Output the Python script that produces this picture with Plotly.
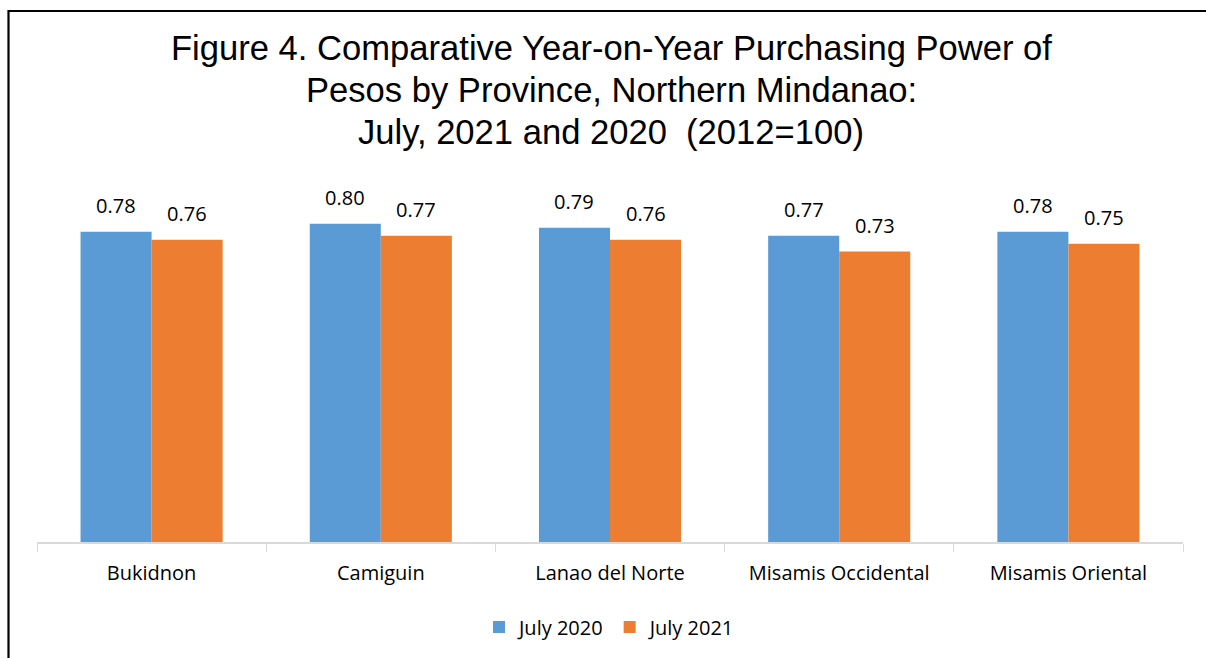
import plotly.graph_objects as go

provinces = ["Bukidnon", "Camiguin", "Lanao del Norte", "Misamis Occidental", "Misamis Oriental"]
july_2020 = [0.78, 0.80, 0.79, 0.77, 0.78]
july_2021 = [0.76, 0.77, 0.76, 0.73, 0.75]
series_names = ["July 2020", "July 2021"]
colors = ["#5B9BD5", "#ED7D31"]
title_lines = ["Figure 4. Comparative Year-on-Year Purchasing Power of",
               "Pesos by Province, Northern Mindanao:",
               "July, 2021 and 2020  (2012=100)"]

W, H = 1206, 658
L, R, T, B = 37, 23, 184, 116
pw, ph = W - L - R, H - T - B
BARGAP = 0.38
bar_px = pw / len(provinces) * (1 - BARGAP) / 2

label_font = dict(family="Open Sans, sans-serif", size=20, color="#000000")

fig = go.Figure()
annotations = []
for k, (name, vals, col) in enumerate(zip(series_names, [july_2020, july_2021], colors)):
    fig.add_trace(go.Bar(
        x=provinces, y=vals, name=name, marker=dict(color=col, line=dict(width=0)),
    ))
    for p, v in zip(provinces, vals):
        annotations.append(dict(
            x=p, y=v, xref="x", yref="y", text=f"{v:.2f}", showarrow=False,
            xshift=(k - 0.5) * bar_px, yshift=26, yanchor="middle", xanchor="center",
            font=label_font,
        ))

title_y = [48, 90, 132]
for line, yy in zip(title_lines, title_y):
    annotations.append(dict(
        text=line, xref="paper", yref="paper", x=(611 - L) / pw, y=1 + (T - yy) / ph,
        xanchor="center", yanchor="middle", showarrow=False,
        font=dict(family="Liberation Sans, Arial, sans-serif", size=34.6, color="#000000"),
    ))

fig.update_layout(
    width=W, height=H,
    margin=dict(l=L, r=R, t=T, b=B),
    paper_bgcolor="white", plot_bgcolor="white",
    barmode="group", bargap=BARGAP, bargroupgap=0,
    showlegend=True,
    legend=dict(orientation="h", x=0.5, xanchor="center",
                y=-(627 - 542) / ph, yanchor="middle",
                font=label_font, traceorder="normal"),
    xaxis=dict(showline=True, linecolor="#D9D9D9", linewidth=1.5,
               ticks="outside", tickson="boundaries", ticklen=8, tickcolor="#D9D9D9",
               tickfont=label_font, showgrid=False, ticklabelstandoff=12),
    yaxis=dict(range=[0, 0.9], visible=False, showgrid=False),
    annotations=annotations,
    shapes=[dict(type="rect", xref="paper", yref="paper",
                 x0=(8.5 - L) / pw, x1=(W + 20 - L) / pw,
                 y0=-(H + 20 - T - ph) / ph, y1=1 + (T - 11) / ph,
                 line=dict(color="black", width=2.2), fillcolor="rgba(0,0,0,0)", layer="above")],
)

fig.write_html("out.html")
